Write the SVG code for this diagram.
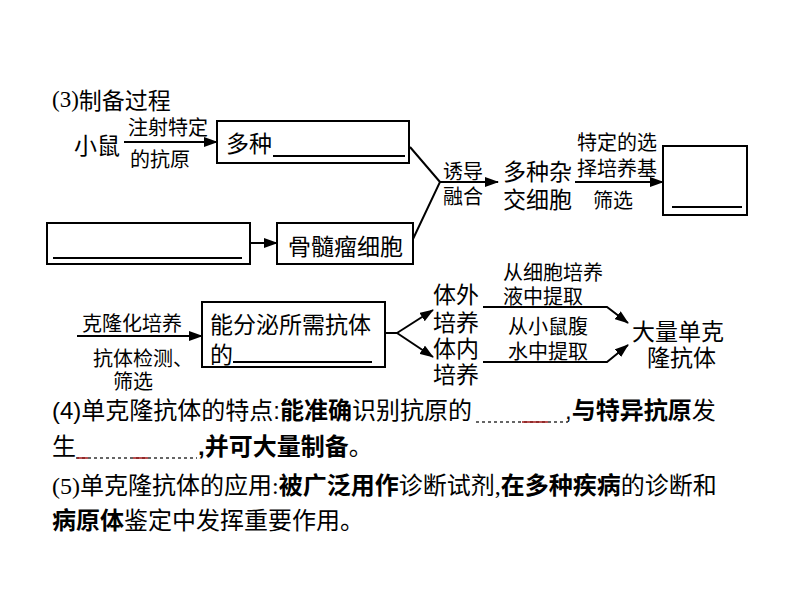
<svg xmlns="http://www.w3.org/2000/svg" width="794" height="596" viewBox="0 0 794 596">
<style>
text{font-family:"Noto Sans CJK SC","Noto Sans CJK TC",sans-serif;fill:#000;dominant-baseline:central}
.big{font-size:23px}
.sm{font-size:20px}
.p{font-size:24px;font-family:"Liberation Serif","Noto Sans CJK SC",serif}
.ps{font-size:24px;font-family:"Liberation Sans","Noto Sans CJK SC",sans-serif}
.b{font-weight:600}
.box{fill:#fff;stroke:#000;stroke-width:2}
.ul{stroke:#000;stroke-width:2}
.ln{fill:none;stroke:#000;stroke-width:2}
.blank{stroke:#333;stroke-width:1.5;stroke-dasharray:3 3}
.red{stroke:#a01818;stroke-width:1.5}
</style>
<defs>
<marker id="ah" viewBox="0 0 14 10" markerWidth="14" markerHeight="10" refX="13" refY="5" orient="auto" markerUnits="userSpaceOnUse">
<path d="M0,0 L14,5 L0,10 z" fill="#000"/>
</marker>
</defs>
<rect width="794" height="596" fill="#fff"/>

<text class="big" x="52" y="99"><tspan font-family="Liberation Serif">(3)</tspan>制备过程</text>

<g id="connectors">
<line class="ln" x1="124" y1="142" x2="217" y2="142" marker-end="url(#ah)"/>
<polyline class="ln" points="410,147 440,182 413,239"/>
<line class="ln" x1="440" y1="182" x2="498" y2="182" marker-end="url(#ah)"/>
<line class="ln" x1="575" y1="182" x2="663" y2="182" marker-end="url(#ah)"/>
<line class="ln" x1="250" y1="243" x2="277" y2="243" marker-end="url(#ah)"/>
<line class="ln" x1="77" y1="336" x2="202" y2="336" marker-end="url(#ah)"/>
<line class="ln" x1="385" y1="333" x2="397" y2="333"/>
<line class="ln" x1="397" y1="333" x2="433" y2="310" marker-end="url(#ah)"/>
<line class="ln" x1="397" y1="333" x2="433" y2="357" marker-end="url(#ah)"/>
<polyline class="ln" points="483,307 607,307 628,323" marker-end="url(#ah)"/>
<polyline class="ln" points="483,362 607,362 628,345" marker-end="url(#ah)"/>
<text class="sm" x="128" y="126">注射特定</text>
<text class="sm" x="130" y="158">的抗原</text>
<text class="sm" x="443" y="170">诱导</text>
<text class="sm" x="443" y="195">融合</text>
<text class="sm" x="577" y="141">特定的选</text>
<text class="sm" x="577" y="167">择培养基</text>
<text class="sm" x="593" y="199">筛选</text>
<text class="sm" x="82" y="322">克隆化培养</text>
<text class="sm" x="93" y="357">抗体检测、</text>
<text class="sm" x="113" y="380">筛选</text>
<text class="sm" x="503" y="271">从细胞培养</text>
<text class="sm" x="503" y="295">液中提取</text>
<text class="sm" x="508" y="325">从小鼠腹</text>
<text class="sm" x="508" y="350">水中提取</text>
</g>

<g id="mouse"><text class="big" x="74" y="144">小鼠</text></g>

<g id="box-b-cells">
<rect class="box" x="217" y="121" width="192" height="42"/>
<text class="big" x="226" y="142">多种</text>
<line class="ul" x1="273" y1="156" x2="405" y2="156"/>
</g>

<g id="box-blank-left">
<rect class="box" x="47" y="223" width="203" height="41"/>
<line class="ul" x1="53" y1="258" x2="242" y2="258"/>
</g>

<g id="box-myeloma">
<rect class="box" x="277" y="223" width="136" height="41"/>
<text class="big" x="288" y="245">骨髓瘤细胞</text>
</g>

<g id="hybrid-cells">
<text class="big" x="503" y="170">多种杂</text>
<text class="big" x="503" y="198">交细胞</text>
</g>

<g id="box-selected">
<rect class="box" x="663" y="146" width="84" height="69"/>
<line class="ul" x1="672" y1="207" x2="742" y2="207"/>
</g>

<g id="box-hybridoma">
<rect class="box" x="202" y="302" width="183" height="65"/>
<text class="big" x="210" y="323">能分泌所需抗体</text>
<text class="big" x="210" y="353">的</text>
<line class="ul" x1="233" y1="362" x2="372" y2="362"/>
</g>

<g id="in-vitro">
<text class="big" x="433" y="293">体外</text>
<text class="big" x="433" y="321">培养</text>
</g>
<g id="in-vivo">
<text class="big" x="433" y="347">体内</text>
<text class="big" x="433" y="373">培养</text>
</g>

<g id="mab">
<text class="big" x="632" y="330">大量单克</text>
<text class="big" x="647" y="356">隆抗体</text>
</g>

<g id="text-4">
<text class="ps" x="52" y="410">(4)单克隆抗体的特点:<tspan class="b">能准确</tspan>识别抗原的<tspan dx="93">,</tspan><tspan class="b">与特异抗原</tspan>发</text>
<line class="blank" x1="476" y1="422" x2="568" y2="422"/>
<line class="red" x1="522" y1="422" x2="548" y2="422"/>
<text class="ps" x="52" y="446">生<tspan dx="122" class="b">,并可大量制备</tspan>。</text>
<line class="blank" x1="76" y1="458" x2="197" y2="458"/>
<line class="red" x1="77" y1="458" x2="88" y2="458"/>
<line class="red" x1="133" y1="458" x2="148" y2="458"/>
</g>

<g id="text-5">
<text class="p" x="52" y="486">(5)单克隆抗体的应用:<tspan class="b">被广泛用作</tspan>诊断试剂,<tspan class="b">在多种疾病</tspan>的诊断和</text>
<text class="p" x="52" y="521"><tspan class="b">病原体</tspan>鉴定中发挥重要作用。</text>
</g>
</svg>
